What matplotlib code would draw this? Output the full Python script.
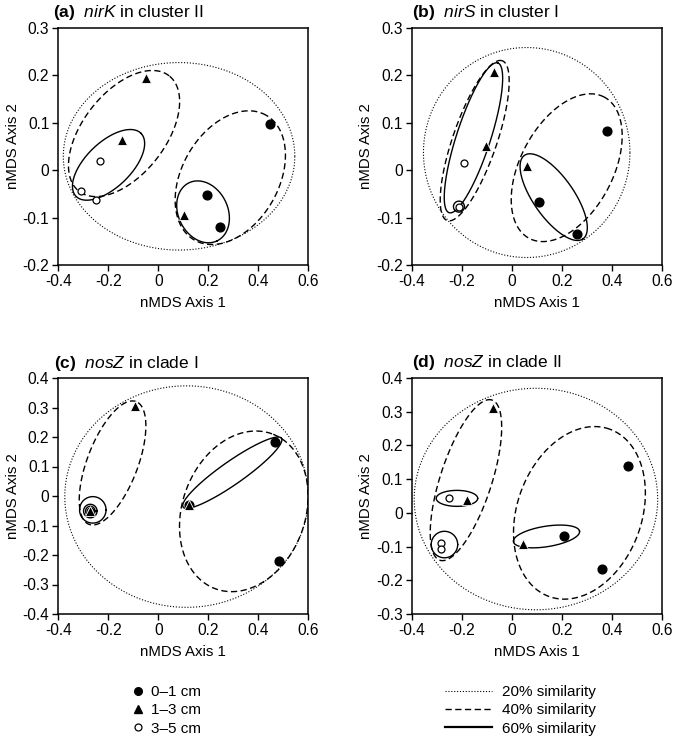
import numpy as np
import matplotlib
matplotlib.use("Agg")
import matplotlib.pyplot as plt
from matplotlib.lines import Line2D

plt.rcParams["font.family"] = ["Liberation Sans", "DejaVu Sans"]
plt.rcParams["mathtext.fontset"] = "custom"
plt.rcParams["mathtext.rm"] = "Liberation Sans"
plt.rcParams["mathtext.it"] = "Liberation Sans:italic"
plt.rcParams["mathtext.bf"] = "Liberation Sans:bold"

# ---- data: nMDS scores per depth ----
titles = [r"$\mathbf{(a)}$  $\mathit{nirK}$ in cluster II",
          r"$\mathbf{(b)}$  $\mathit{nirS}$ in cluster I",
          r"$\mathbf{(c)}$  $\mathit{nosZ}$ in clade I",
          r"$\mathbf{(d)}$  $\mathit{nosZ}$ in clade II"]

a_d01_x = [0.447, 0.196, 0.247]
a_d01_y = [0.098, -0.053, -0.119]
a_d13_x = [-0.049, -0.144, 0.103]
a_d13_y = [0.195, 0.063, -0.095]
a_d35_x = [-0.233, -0.311, -0.251]
a_d35_y = [0.019, -0.044, -0.064]

b_d01_x = [0.383, 0.109, 0.260]
b_d01_y = [0.083, -0.068, -0.134]
b_d13_x = [-0.069, -0.104, 0.063]
b_d13_y = [0.206, 0.050, 0.008]
b_d35_x = [-0.189, -0.211]
b_d35_y = [0.014, -0.077]

c_d01_x = [0.467, 0.484, 0.124]
c_d01_y = [0.184, -0.219, -0.031]
c_d13_x = [-0.093, -0.272, 0.124]
c_d13_y = [0.306, -0.051, -0.031]
c_d35_x = [-0.272]
c_d35_y = [-0.051]

d_d01_x = [0.464, 0.211, 0.361]
d_d01_y = [0.139, -0.068, -0.166]
d_d13_x = [-0.073, -0.179, 0.044]
d_d13_y = [0.312, 0.039, -0.091]
d_d35_x = [-0.252, -0.282, -0.282]
d_d35_y = [0.043, -0.089, -0.107]

# similarity ellipses: (cx, cy, semi-axis a, semi-axis b, angle deg)
# a, b are in x-axis units (as they appear on screen)
a_sim20 = [(0.083, 0.029, 0.463, 0.375, 0)]
a_sim40 = [(-0.137, 0.077, 0.293, 0.165, 52), (0.288, -0.016, 0.288, 0.193, 60)]
a_sim60 = [(-0.199, 0.011, 0.181, 0.090, 44), (0.179, -0.088, 0.129, 0.099, -64)]

b_sim20 = [(0.060, 0.037, 0.413, 0.420, 0)]
b_sim40 = [(-0.148, 0.062, 0.338, 0.088, 71), (0.220, 0.005, 0.320, 0.185, 62)]
b_sim60 = [(-0.153, 0.068, 0.315, 0.068, 72), (0.168, -0.057, 0.204, 0.081, -55),
           (-0.211, -0.077, 0.022, 0.022, 0)]

c_sim20 = [(0.113, -0.002, 0.487, 0.443, 0)]
c_sim40 = [(-0.183, 0.112, 0.263, 0.101, 69), (0.342, -0.052, 0.330, 0.246, 70)]
c_sim60 = [(0.296, 0.079, 0.240, 0.046, 35), (-0.262, -0.047, 0.053, 0.053, 0),
           (-0.272, -0.051, 0.019, 0.019, 0), (-0.272, -0.051, 0.027, 0.027, 0)]

d_sim20 = [(0.097, 0.041, 0.487, 0.443, 0)]
d_sim40 = [(-0.183, 0.097, 0.337, 0.103, 72), (0.271, 0.000, 0.356, 0.249, 70)]
d_sim60 = [(-0.219, 0.043, 0.083, 0.032, 0), (-0.269, -0.094, 0.053, 0.053, 0),
           (0.139, -0.070, 0.134, 0.041, 9)]

ylims = [(-0.2, 0.3), (-0.2, 0.3), (-0.4, 0.4), (-0.3, 0.4)]
yticks = [np.arange(-0.2, 0.31, 0.1), np.arange(-0.2, 0.31, 0.1),
          np.arange(-0.4, 0.41, 0.1), np.arange(-0.3, 0.41, 0.1)]
xticks = np.arange(-0.4, 0.61, 0.2)

panels = [
    (a_d01_x, a_d01_y, a_d13_x, a_d13_y, a_d35_x, a_d35_y, a_sim20, a_sim40, a_sim60),
    (b_d01_x, b_d01_y, b_d13_x, b_d13_y, b_d35_x, b_d35_y, b_sim20, b_sim40, b_sim60),
    (c_d01_x, c_d01_y, c_d13_x, c_d13_y, c_d35_x, c_d35_y, c_sim20, c_sim40, c_sim60),
    (d_d01_x, d_d01_y, d_d13_x, d_d13_y, d_d35_x, d_d35_y, d_sim20, d_sim40, d_sim60),
]

W, H = 675, 738
fig = plt.figure(figsize=(W / 100, H / 100), dpi=100)

# axes boxes in pixels: left, top, width, height
boxes = [(58.3, 27.7, 250, 237.3), (411.7, 27.7, 250, 237.3),
         (58.3, 378, 250, 236), (411.7, 378, 250, 236)]
title_x = [53, 412, 54, 412]
title_y = [12, 12, 363, 362]

STY20 = dict(color="black", lw=0.8, linestyle=(0, (1, 1.6)))
STY40 = dict(color="black", lw=1.0, linestyle=(0, (4.5, 2.5)))
STY60 = dict(color="black", lw=1.0, linestyle="-")


def fmt(v):
    v = round(v, 1)
    if abs(v) < 1e-9:
        return "0"
    return f"{v:.1f}"


def draw_ellipse(ax, e, s, sty):
    cx, cy, a, b, ang = e
    t = np.linspace(0, 2 * np.pi, 300)
    th = np.deg2rad(ang)
    u = a * np.cos(t)
    v = b * np.sin(t)
    x = cx + u * np.cos(th) - v * np.sin(th)
    y = cy + (u * np.sin(th) + v * np.cos(th)) * s
    ax.plot(x, y, **sty, zorder=2)


for i, (box, p) in enumerate(zip(boxes, panels)):
    l, t, w, h = box
    ax = fig.add_axes([l / W, 1 - (t + h) / H, w / W, h / H])
    ax.set_xlim(-0.4, 0.6)
    ax.set_ylim(*ylims[i])
    yspan = ylims[i][1] - ylims[i][0]
    s = (yspan / h) / (1.0 / w)

    d01x, d01y, d13x, d13y, d35x, d35y, s20, s40, s60 = p
    for e in s20:
        draw_ellipse(ax, e, s, STY20)
    for e in s40:
        draw_ellipse(ax, e, s, STY40)
    for e in s60:
        draw_ellipse(ax, e, s, STY60)

    ax.plot(d35x, d35y, "o", ms=5.0, mfc="white", mec="black", mew=0.9, zorder=3)
    ax.plot(d01x, d01y, "o", ms=6.3, mfc="black", mec="black", zorder=4)
    ax.plot(d13x, d13y, "^", ms=6.8, mfc="black", mec="white", mew=0.6, zorder=5)

    ax.set_xticks(xticks)
    ax.set_xticklabels([fmt(v) for v in xticks])
    ax.set_yticks(yticks[i])
    ax.set_yticklabels([fmt(v) for v in yticks[i]])
    ax.tick_params(direction="out", length=4, width=1.0, labelsize=11.2,
                   top=False, right=False, pad=2.5)
    for sp in ax.spines.values():
        sp.set_linewidth(1.1)
    ax.set_xlabel("nMDS Axis 1", fontsize=10.8, labelpad=5)
    ax.set_ylabel("nMDS Axis 2", fontsize=10.8, labelpad=2)

    fig.text(title_x[i] / W, 1 - title_y[i] / H, titles[i], fontsize=12.5,
             ha="left", va="center")

# legends
depth_handles = [
    Line2D([], [], ls="none", marker="o", ms=5.5, mfc="black", mec="black"),
    Line2D([], [], ls="none", marker="^", ms=5.5, mfc="black", mec="black"),
    Line2D([], [], ls="none", marker="o", ms=5, mfc="white", mec="black", mew=0.9),
]
depth_labels = ["0\u20131 cm", "1\u20133 cm", "3\u20135 cm"]
sim_handles = [Line2D([], [], **STY20), Line2D([], [], **STY40),
               Line2D([], [], color="black", lw=1.6)]
sim_labels = ["20% similarity", "40% similarity", "60% similarity"]

fig.legend(depth_handles, depth_labels, loc="upper left",
           bbox_to_anchor=(130 / W, 1 - 685 / H), frameon=False, fontsize=11,
           handlelength=1.0, handletextpad=0.4, labelspacing=0.28,
           borderpad=0, borderaxespad=0)
fig.legend(sim_handles, sim_labels, loc="upper left",
           bbox_to_anchor=(445 / W, 1 - 685 / H), frameon=False, fontsize=11,
           handlelength=3.1, handletextpad=0.6, labelspacing=0.28,
           borderpad=0, borderaxespad=0)

fig.savefig("out.png", dpi=100)
